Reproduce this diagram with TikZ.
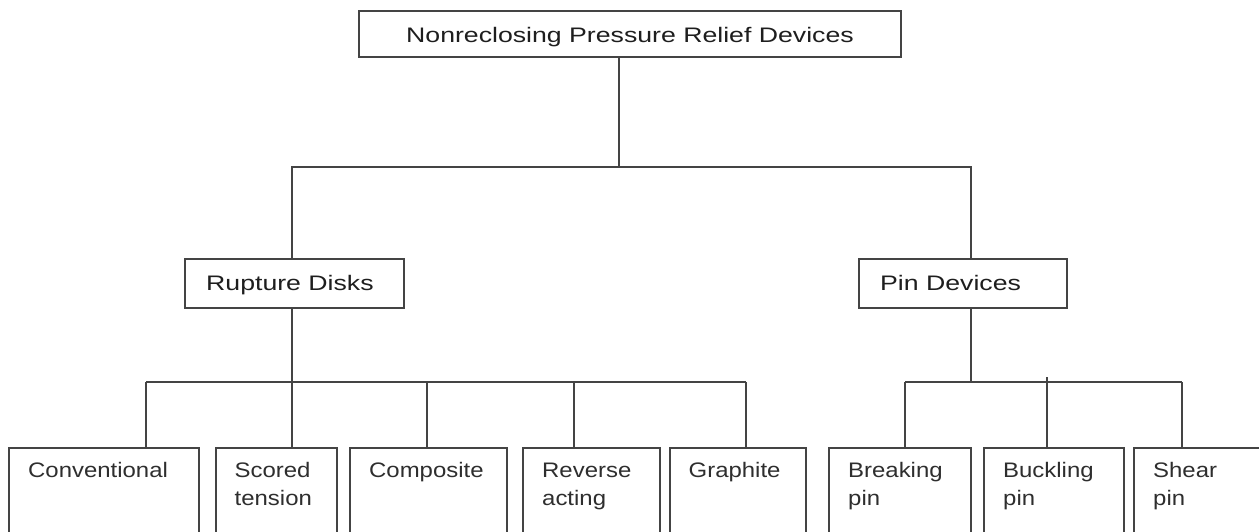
\documentclass[tikz,border=0pt]{standalone}
\usepackage{fontspec}
\usetikzlibrary{calc}
\setmainfont[FakeStretch=1.27]{Liberation Sans}
\newfontfamily\leaffont[FakeStretch=1.14]{Liberation Sans}
\definecolor{linec}{HTML}{444444}
\definecolor{textc}{HTML}{1E1E1E}
\definecolor{leafc}{HTML}{2E2E2E}
\tikzset{
  box/.style={draw=linec, line width=2pt, inner sep=0pt, outer sep=0pt, anchor=north west, fill=none},
  txt/.style={inner sep=0pt, anchor=base west, text=textc, font=\fontsize{21}{28}\selectfont},
  leaf/.style={inner sep=0pt, anchor=base west, text=leafc, font=\leaffont\fontsize{21}{28}\selectfont},
  conn/.style={draw=linec, line width=2pt}
}
\newcommand{\bx}[6]{% name, x1, y1, x2, y2
  \node[box, minimum width={#4-#2}, minimum height={#5-#3}] (#1) at (#2,#3) {};}
\begin{document}
\begin{tikzpicture}[x=1pt,y=-1pt]
\useasboundingbox (0,0) rectangle (1259,531);
\fill[white] (0,0) rectangle (1259,531);
\begin{scope}
\clip (0,0) rectangle (1259,531);
% boxes
\bx{top}{359}{11}{901}{57}{}
\bx{rupture}{185}{259}{404}{308}{}
\bx{pin}{859}{259}{1067}{308}{}
\bx{conv}{9}{448}{199}{545}{}
\bx{scored}{216}{448}{337}{545}{}
\bx{compo}{350}{448}{507}{545}{}
\bx{rev}{523}{448}{660}{545}{}
\bx{graph}{670}{448}{806}{545}{}
\bx{break}{829}{448}{971}{545}{}
\bx{buck}{984}{448}{1124}{545}{}
\bx{shear}{1134}{448}{1300}{545}{}
% texts
\node[txt, anchor=base] (ttop) at (630,42) {Nonreclosing Pressure Relief Devices};
\node[txt] (trup) at (206,290.5) {Rupture Disks};
\node[txt] (tpin) at (880,290.5) {Pin Devices};
\node[leaf] (tconv) at (28,477) {Conventional};
\node[leaf] (tscored1) at (234.5,477) {Scored};
\node[leaf] (tscored2) at (234.5,505) {tension};
\node[leaf] (tcompo) at (369,477) {Composite};
\node[leaf] (trev1) at (542,477) {Reverse};
\node[leaf] (trev2) at (542,505) {acting};
\node[leaf] (tgraph) at (688.5,477) {Graphite};
\node[leaf] (tbreak1) at (848,477) {Breaking};
\node[leaf] (tbreak2) at (848,505) {pin};
\node[leaf] (tbuck1) at (1003,477) {Buckling};
\node[leaf] (tbuck2) at (1003,505) {pin};
\node[leaf] (tshear1) at (1153,477) {Shear};
\node[leaf] (tshear2) at (1153,505) {pin};
% junctions
\coordinate (jt) at (619,167);
\coordinate (jr) at (292,382);
\coordinate (jp) at (971,382);
\coordinate (dconv) at (146,0);
\coordinate (dcompo) at (427,0);
\coordinate (drev) at (574,0);
\coordinate (dgraph) at (746,0);
\coordinate (dbreak) at (905,0);
\coordinate (dbuck) at (1047,0);
\coordinate (dshear) at (1182,0);
% connectors
\draw[conn] (top.south -| jt) -- (jt);
\draw[conn] (rupture.north -| jr) |- (jt) -| (pin.north -| jp);
\draw[conn] (rupture.south -| jr) -- (jr);
\draw[conn] (pin.south -| jp) -- (jp);
\draw[conn] (jr -| dconv) -- (jr -| dgraph);
\draw[conn] (jp -| dbreak) -- (jp -| dshear);
\draw[conn] (jr -| dconv) -- (conv.north -| dconv);
\draw[conn] (jr) -- (scored.north -| jr);
\draw[conn] (jr -| dcompo) -- (compo.north -| dcompo);
\draw[conn] (jr -| drev) -- (rev.north -| drev);
\draw[conn] (jr -| dgraph) -- (graph.north -| dgraph);
\draw[conn] (jp -| dbreak) -- (break.north -| dbreak);
\draw[conn] ($(jp -| dbuck)+(0,-5)$) -- (buck.north -| dbuck);
\draw[conn] (jp -| dshear) -- (shear.north -| dshear);
\end{scope}
\end{tikzpicture}
\end{document}
